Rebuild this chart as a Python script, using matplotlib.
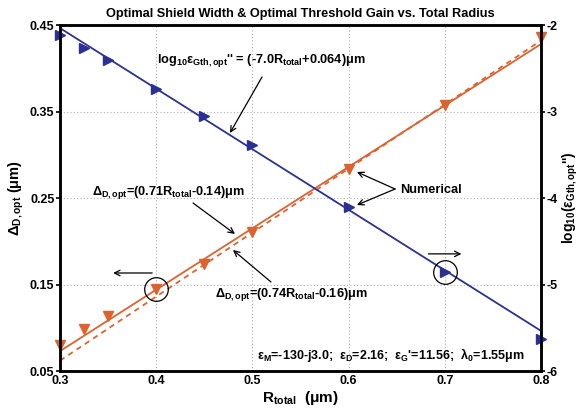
import matplotlib
matplotlib.use('Agg')
import matplotlib.pyplot as plt

plt.rcParams['font.family'] = ['Liberation Sans', 'DejaVu Sans']
plt.rcParams['font.weight'] = 'bold'
plt.rcParams['axes.labelweight'] = 'bold'
plt.rcParams['axes.titleweight'] = 'bold'
plt.rcParams['mathtext.fontset'] = 'custom'
plt.rcParams['mathtext.rm'] = 'Liberation Sans:bold'
plt.rcParams['mathtext.it'] = 'Liberation Sans:bold'
plt.rcParams['mathtext.bf'] = 'Liberation Sans:bold'
plt.rcParams['mathtext.default'] = 'rm'

# data
r_num = [0.3, 0.325, 0.35, 0.4, 0.45, 0.5, 0.6, 0.7, 0.8]
delta_num = [0.080, 0.099, 0.114, 0.145, 0.174, 0.211, 0.283, 0.357, 0.436]
log_eps_num = [-2.115, -2.27, -2.41, -2.74, -3.05, -3.39, -4.10, -4.85, -5.63]

r_fit = [0.3, 0.8]
delta_fit_a = [0.073, 0.428]   # 0.71R - 0.14
delta_fit_b = [0.062, 0.432]   # 0.74R - 0.16
log_eps_fit = [-2.036, -5.536]  # -7.0R + 0.064

x_ticks = [0.3, 0.4, 0.5, 0.6, 0.7, 0.8]
left_ticks = [0.05, 0.15, 0.25, 0.35, 0.45]
right_ticks = [-6, -5, -4, -3, -2]

orange = '#dc6330'
blue = '#2b3192'

fig = plt.figure(figsize=(5.81, 4.12), dpi=100)
ax = fig.add_axes([60 / 581, 41 / 412, 481 / 581, 346 / 412])
ax2 = ax.twinx()

ax.plot(r_fit, delta_fit_a, color=orange, lw=1.3)
ax.plot(r_fit, delta_fit_b, color=orange, lw=1.3, ls=(0, (3, 2.5)))
ax.plot(r_num, delta_num, ls='none', marker='v', ms=7, color=orange, clip_on=False)

ax2.plot(r_fit, log_eps_fit, color=blue, lw=1.3)
ax2.plot(r_num, log_eps_num, ls='none', marker='>', ms=7, color=blue, clip_on=False)

# circles around the example points
ax.plot([r_num[3]], [delta_num[3]], ls='none', marker='o', ms=17, mfc='none', mec='black', mew=0.9)
ax2.plot([r_num[7]], [log_eps_num[7]], ls='none', marker='o', ms=17, mfc='none', mec='black', mew=0.9)

ax.set_xlim(0.3, 0.8)
ax.set_ylim(0.05, 0.45)
ax2.set_ylim(-6, -2)
ax.set_xticks(x_ticks)
ax.set_xticklabels([f'{v:g}' for v in x_ticks])
ax.set_yticks(left_ticks)
ax.set_yticklabels([f'{v:.2f}' for v in left_ticks])
ax2.set_yticks(right_ticks)
ax2.set_yticklabels([str(v) for v in right_ticks])

ax.grid(True, color='#b0b0b0', ls=(0, (1, 2)), lw=0.8)
ax.tick_params(axis='x', length=0, labelsize=9, pad=3)
ax.tick_params(axis='y', direction='out', length=3, width=1.2, labelsize=9, pad=1)
ax2.tick_params(axis='y', direction='out', length=3, width=1.2, labelsize=9, pad=1)
for a in (ax, ax2):
    for s in a.spines.values():
        s.set_linewidth(1.8)

ax.set_title('Optimal Shield Width & Optimal Threshold Gain vs. Total Radius', fontsize=9.2, pad=6)
ax.set_xlabel(r'R$_{total}$  ($\mu$m)', fontsize=11, labelpad=1)
ax.set_ylabel(r'$\Delta_{D,opt}$ ($\mu$m)', fontsize=10.5, labelpad=3)
ax2.set_ylabel(r"log$_{10}$($\varepsilon_{Gth,opt}$'')", fontsize=10, labelpad=2)

arrow = dict(arrowstyle='->', color='black', lw=0.9, shrinkA=0, shrinkB=0)
fs = 9.2

ax.text(0.4008, 0.4095, r"log$_{10}\varepsilon_{Gth,opt}$'' = (-7.0R$_{total}$+0.064)$\mu$m",
        fontsize=fs, va='center', ha='left')
ax.annotate('', xy=(0.4767, 0.3252), xytext=(0.51, 0.3899), arrowprops=arrow)

ax.text(0.3333, 0.2569, r'$\Delta_{D,opt}$=(0.71R$_{total}$-0.14)$\mu$m', fontsize=fs, va='center', ha='left')
ax.annotate('', xy=(0.4819, 0.2084), xytext=(0.4383, 0.2442), arrowprops=arrow)

ax.text(0.4611, 0.1379, r'$\Delta_{D,opt}$=(0.74R$_{total}$-0.16)$\mu$m', fontsize=fs, va='center', ha='left')
ax.annotate('', xy=(0.4798, 0.1899), xytext=(0.5193, 0.1529), arrowprops=arrow)

ax.text(0.6534, 0.2592, 'Numerical', fontsize=fs, va='center', ha='left')
ax.annotate('', xy=(0.6087, 0.2801), xytext=(0.6483, 0.2604), arrowprops=arrow)
ax.annotate('', xy=(0.6087, 0.2419), xytext=(0.6483, 0.2604), arrowprops=arrow)

# arrows pointing to the axis each curve belongs to
ax.annotate('', xy=(0.3552, 0.1633), xytext=(0.3958, 0.1633), arrowprops=arrow)
ax.annotate('', xy=(0.7173, 0.1854), xytext=(0.6829, 0.1854), arrowprops=arrow)

ax.text(0.5048, 0.0685, r"$\varepsilon_M$=-130-j3.0;  $\varepsilon_D$=2.16;  $\varepsilon_G$'=11.56;  $\lambda_0$=1.55$\mu$m",
        fontsize=9, va='center', ha='left')

fig.savefig('out.png', dpi=100)
